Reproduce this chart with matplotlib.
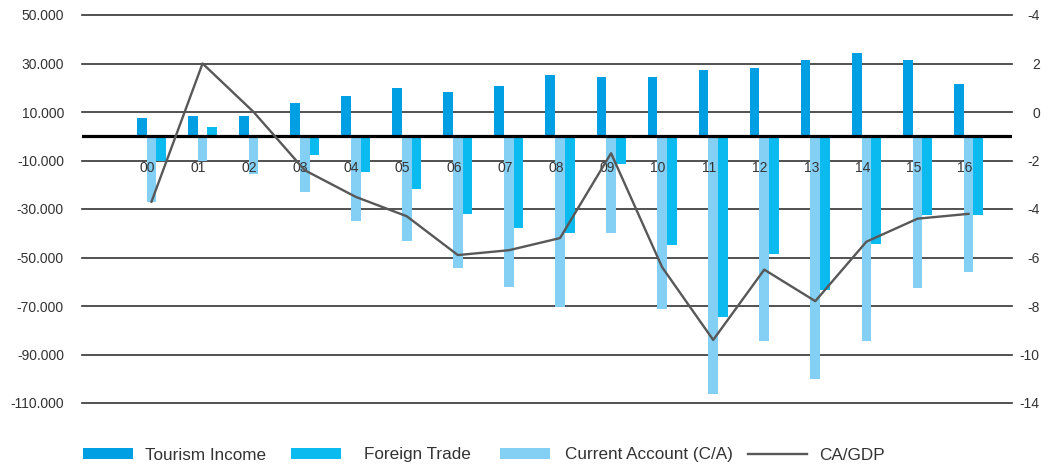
import matplotlib
matplotlib.use("Agg")
import matplotlib.pyplot as plt
import numpy as np

years = ['00', '01', '02', '03', '04', '05', '06', '07', '08',
         '09', '10', '11', '12', '13', '14', '15', '16']
tourism = [7600, 8450, 8450, 13800, 16700, 20000, 18350, 20800, 25400,
           24500, 24500, 27400, 28250, 31550, 34400, 31550, 21650]
current_account = [-27000, -10400, -15500, -22900, -34800, -43100, -54500, -62300, -70300,
                   -39800, -71200, -106200, -84300, -100000, -84300, -62500, -55900]
foreign_trade = [-10100, 3900, 0, -7600, -14600, -21600, -32000, -37700, -39800,
                 -11300, -44700, -74400, -48400, -63300, -44300, -32400, -32400]
ca_gdp = [-3.7, 2.0, 0.0, -2.4, -3.5, -4.3, -5.9, -5.7, -5.2,
          -1.7, -6.4, -9.4, -6.5, -7.8, -5.35, -4.4, -4.2]

left_ticks = [50000, 30000, 10000, -10000, -30000, -50000, -70000, -90000, -110000]
left_labels = ['50.000', '30.000', '10.000', '-10.000', '-30.000', '-50.000',
               '-70.000', '-90.000', '-110.000']
right_ticks = [4, 2, 0, -2, -4, -6, -8, -10, -12]
right_labels = ['-4', '2', '0', '-2', '-4', '-6', '-8', '-10', '-14']

c_tour = '#009fe3'
c_trade = '#0bbbef'
c_ca = '#84d0f5'
c_line = '#585858'

plt.rcParams['font.family'] = ['Liberation Sans', 'DejaVu Sans']

fig = plt.figure(figsize=(10.49, 4.71), dpi=100)
ax = fig.add_axes([82 / 1049, 1 - 403 / 471, 930 / 1049, 388 / 471])
ax2 = ax.twinx()

x = np.arange(len(years))
w = 0.19

for yv in left_ticks:
    ax.axhline(yv, color='#333333', lw=1.2, zorder=1, clip_on=False)
ax.axhline(0, color='black', lw=2.3, zorder=4)

b1 = ax.bar(x - w, tourism, w, color=c_tour, zorder=3)
b3 = ax.bar(x, current_account, w, color=c_ca, zorder=3)
b2 = ax.bar(x + w, foreign_trade, w, color=c_trade, zorder=3)

for i, lab in enumerate(years):
    ax.text(i - 0.08, -13100, lab, ha='center', va='center', fontsize=10,
            color='#333333', zorder=5)

ax.set_xlim(-1.361, 16.852)
ax.set_ylim(-110000, 50000)
ax.set_yticks(left_ticks)
ax.set_yticklabels(left_labels)
ax.set_xticks([])
ax.tick_params(axis='y', length=0, pad=13, labelsize=10, labelcolor='#333333')

ln, = ax2.plot(x, ca_gdp, color=c_line, lw=1.7, zorder=6)
ax2.set_ylim(-12, 4)
ax2.set_yticks(right_ticks)
ax2.set_yticklabels(right_labels, ha='right')
ax2.tick_params(axis='y', length=0, pad=20, labelsize=10, labelcolor='#333333')
ax.set_zorder(ax2.get_zorder() - 1)
ax2.patch.set_visible(False)
ax.patch.set_visible(False)

for a in (ax, ax2):
    for s in a.spines.values():
        s.set_visible(False)

# legend items placed one by one to match the uneven spacing of the original
fs = 12.3
px = fs * 100 / 72
items = [(b1, 'Tourism Income', 83, 50, 145),
         (b2, 'Foreign Trade', 291, 50, 364),
         (b3, 'Current Account (C/A)', 500, 50, 565),
         (ln, 'CA/GDP', 748, 59, 819)]
for h, lab, x0, hl, tx in items:
    leg = fig.legend([h], [lab], loc='center left',
                     bbox_to_anchor=(x0 / 1049, 1 - 455 / 471),
                     frameon=False, borderpad=0, borderaxespad=0,
                     handlelength=hl / px, handleheight=11 / px,
                     handletextpad=(tx - x0 - hl) / px,
                     prop={'size': fs}, labelcolor='#333333')

fig.savefig('out.png', dpi=100, facecolor='white')
